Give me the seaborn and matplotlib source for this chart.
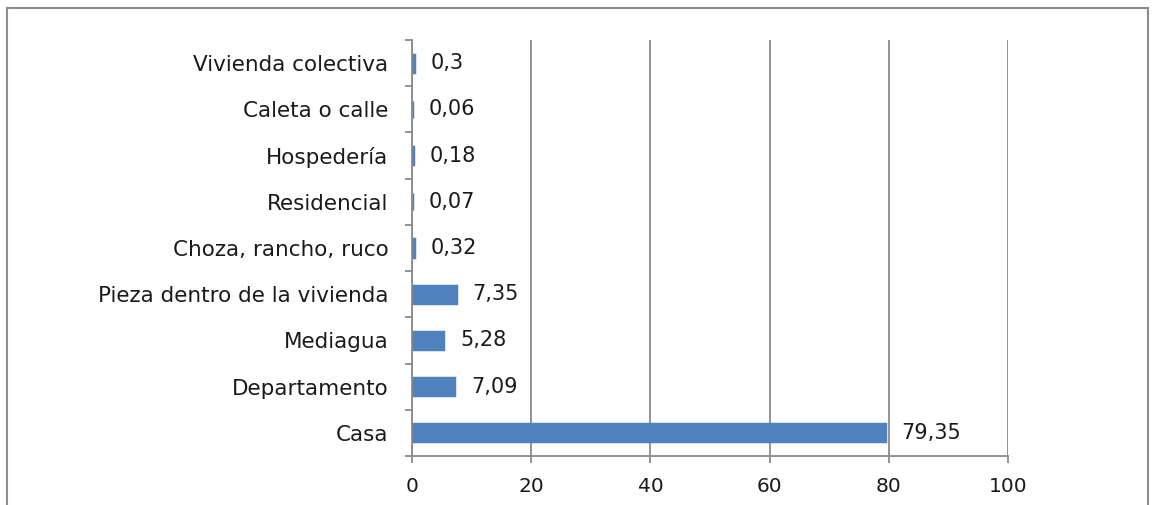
import numpy as np
import pandas as pd
import matplotlib
matplotlib.use("Agg")
import matplotlib.pyplot as plt
import seaborn as sns
from matplotlib.patches import Rectangle

# categories listed top to bottom as in the chart
categorias = ["Vivienda colectiva", "Caleta o calle", "Hospedería", "Residencial",
              "Choza, rancho, ruco", "Pieza dentro de la vivienda", "Mediagua",
              "Departamento", "Casa"]
porcentajes = [0.3, 0.06, 0.18, 0.07, 0.32, 7.35, 5.28, 7.09, 79.35]
etiquetas = ["0,3", "0,06", "0,18", "0,07", "0,32", "7,35", "5,28", "7,09", "79,35"]
xticks = [0, 20, 40, 60, 80, 100]

df = pd.DataFrame({"tipo": categorias, "pct": porcentajes})

sns.set_style("white")
plt.rcParams['font.family'] = ['DejaVu Sans']
gris = "#8a8a8a"
azul = "#4F81BD"
texto = "#1a1a1a"

fig = plt.figure(figsize=(11.57, 5.05), dpi=100)
ax = fig.add_axes([412/1157, 1 - 456/505, (1008 - 412)/1157, (456 - 40)/505])

sns.barplot(data=df, x="pct", y="tipo", order=categorias, color=azul,
            width=0.37, saturation=1, edgecolor=azul, linewidth=2.5, ax=ax)
for p in ax.patches:
    p.set_zorder(3)  # keep the thin bars visible

ax.set_xlim(0, 100)
ax.set_ylim(len(categorias) - 0.5, -0.5)
ax.set_xticks(xticks)
ax.set_xticklabels([str(t) for t in xticks], fontsize=14.5, color=texto)
ax.xaxis.grid(True, color=gris, linewidth=1.3)
ax.set_axisbelow(True)

# category labels without ticks, boundary ticks as minor ticks
ax.set_yticks(np.arange(len(categorias)))
ax.set_yticklabels(categorias, fontsize=15.5, color=texto)
ax.set_yticks(np.arange(len(categorias) + 1) - 0.5, minor=True)
ax.tick_params(axis="y", which="major", left=True, length=0, pad=17)
ax.tick_params(axis="y", which="minor", left=True, length=5, width=1.3, color=gris, direction="out")
ax.tick_params(axis="x", bottom=True, length=5, width=1.3, color=gris, direction="out", pad=10)

ax.set_xlabel("")
ax.set_ylabel("")
for s in ["top", "right"]:
    ax.spines[s].set_visible(False)
for s in ["left", "bottom"]:
    ax.spines[s].set_color(gris)
    ax.spines[s].set_linewidth(1.3)
    ax.spines[s].set_zorder(4)

ax.bar_label(ax.containers[0], labels=etiquetas, padding=12, fontsize=15, color=texto)

# outer frame
fig.patches.append(Rectangle((7/1157, -0.05), (1148 - 7)/1157, 1.05 - 8/505,
                             transform=fig.transFigure, fill=False,
                             edgecolor="#8c8c8c", linewidth=1.5))

fig.savefig("out.png", dpi=100)
